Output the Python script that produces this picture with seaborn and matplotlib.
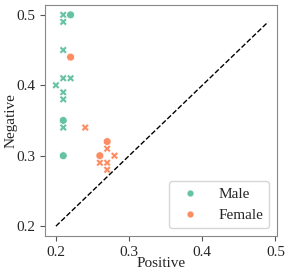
import seaborn as sns
import matplotlib.pyplot as plt
import pandas as pd
from matplotlib.lines import Line2D

# Points
positive = [0.21, 0.22, 0.21, 0.21, 0.21, 0.22, 0.20, 0.21, 0.21, 0.21, 0.21, 0.21,
            0.22, 0.24, 0.27, 0.27, 0.26, 0.28, 0.26, 0.27, 0.27]
negative = [0.50, 0.50, 0.49, 0.45, 0.41, 0.41, 0.40, 0.39, 0.38, 0.35, 0.34, 0.30,
            0.44, 0.34, 0.32, 0.31, 0.30, 0.30, 0.29, 0.29, 0.28]
gender = ['Male'] * 12 + ['Female'] * 9
kind = ['x', 'o', 'x', 'x', 'x', 'x', 'x', 'x', 'x', 'o', 'x', 'o',
        'o', 'x', 'o', 'x', 'o', 'x', 'x', 'x', 'x']
diag = [0.2, 0.49]

df = pd.DataFrame({'Positive': positive, 'Negative': negative,
                   'gender': gender, 'kind': kind})
palette = {'Male': '#66c2a5', 'Female': '#fc8d62'}

sns.set_style('ticks')
plt.rcParams['font.family'] = 'Liberation Serif'

fig, ax = plt.subplots(figsize=(2.9, 2.77), dpi=100)
sns.scatterplot(data=df, x='Positive', y='Negative', hue='gender', style='kind',
                markers={'o': 'o', 'x': 'X'}, palette=palette, s=32,
                ax=ax, legend=False)
ax.plot(diag, diag, 'k--', linewidth=1)

ax.set_xlim(0.185, 0.502)
ax.set_ylim(0.186, 0.514)
ax.set_xticks([0.2, 0.3, 0.4, 0.5])
ax.set_yticks([0.2, 0.3, 0.4, 0.5])
ax.tick_params(labelsize=11, length=3.5, color='#555555')
ax.set_xlabel('Positive', fontsize=11, labelpad=-1)
ax.set_ylabel('Negative', fontsize=11, labelpad=-1)
for sp in ax.spines.values():
    sp.set_color('#888888')
    sp.set_visible(True)

handles = [Line2D([], [], marker='o', linestyle='', color=palette[g], markersize=3.5)
           for g in ['Male', 'Female']]
ax.legend(handles, ['Male', 'Female'], loc='lower right', fontsize=11,
          handlelength=2.0, handletextpad=0.85, borderpad=0.4)

fig.subplots_adjust(left=0.155, right=0.955, top=0.982, bottom=0.148)
plt.savefig('out.png', dpi=100)
